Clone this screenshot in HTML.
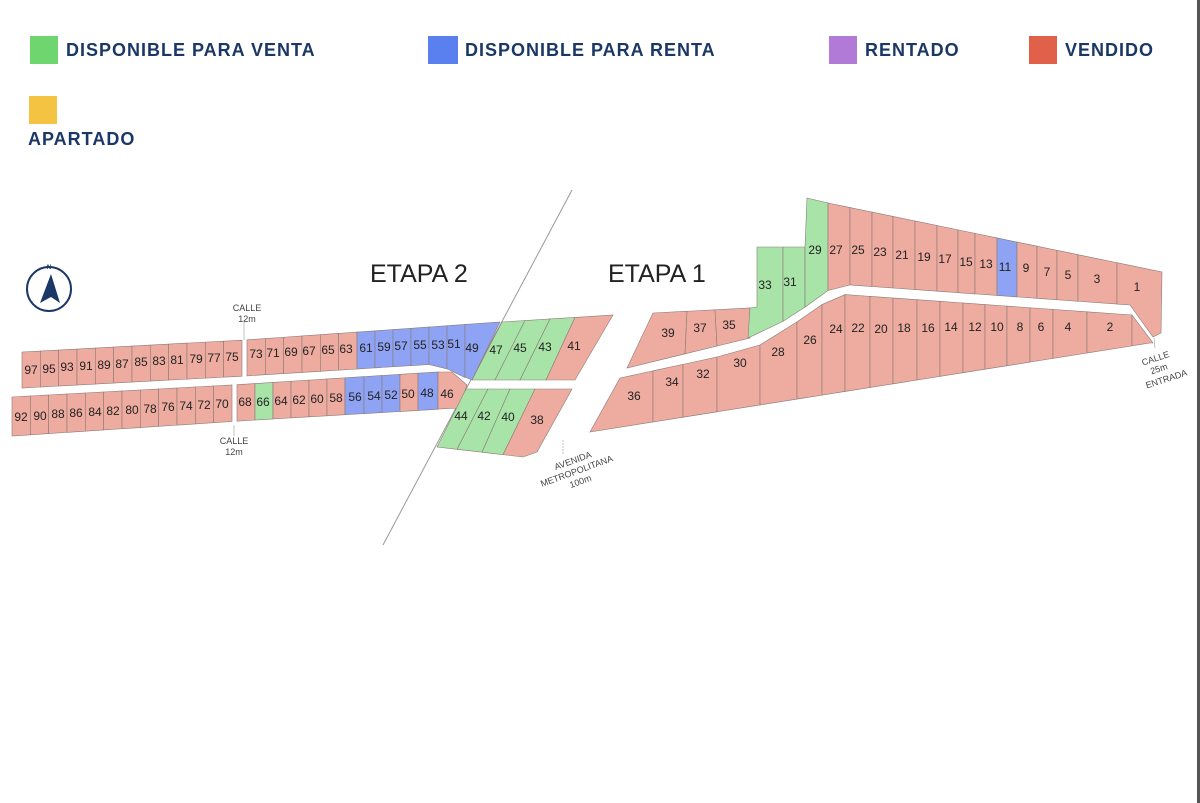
<!DOCTYPE html>
<html><head><meta charset="utf-8"><style>
html,body{margin:0;padding:0;background:#fff;}
svg{display:block;}
.lg{font-family:"Liberation Sans",sans-serif;font-weight:bold;font-size:18px;fill:#1b3766;letter-spacing:1px;}
.n{font-family:"Liberation Sans",sans-serif;font-size:12px;fill:#222;text-anchor:middle;}
.s{font-family:"Liberation Sans",sans-serif;font-size:9px;fill:#444;text-anchor:middle;}
.et{font-family:"Liberation Sans",sans-serif;font-size:25px;fill:#222;}
</style></head><body>
<svg id="m" width="1200" height="803" viewBox="0 0 1200 803" xmlns="http://www.w3.org/2000/svg">
<rect width="1200" height="803" fill="#fff"/>
<rect x="1197" y="0" width="3" height="803" fill="#555"/>
<rect x="30" y="36" width="28" height="28" fill="#6fd66f"/>
<text class="lg" x="66" y="56">DISPONIBLE PARA VENTA</text>
<rect x="428" y="36" width="30" height="28" fill="#5a80f0"/>
<text class="lg" x="465" y="56">DISPONIBLE PARA RENTA</text>
<rect x="829" y="36" width="28" height="28" fill="#b07ad6"/>
<text class="lg" x="865" y="56">RENTADO</text>
<rect x="1029" y="36" width="28" height="28" fill="#e0604a"/>
<text class="lg" x="1065" y="56">VENDIDO</text>
<rect x="29" y="96" width="28" height="28" fill="#f5c342"/>
<text class="lg" x="28" y="145">APARTADO</text>
<circle cx="49" cy="289" r="22" fill="none" stroke="#1b3766" stroke-width="2"/>
<polygon points="51,274 40,303 51,297 60,303" fill="#1b3766"/>
<text x="49" y="269" font-family="Liberation Sans" font-size="6" font-weight="bold" fill="#1b3766" text-anchor="middle">N</text>
<line x1="572" y1="190" x2="383" y2="545" stroke="#999" stroke-width="1"/>
<g id="lots" stroke="#8a7a78" stroke-width="0.6"></g>
<text class="et" x="370" y="282">ETAPA 2</text>
<text class="et" x="608" y="282">ETAPA 1</text>
<g>
<line x1="244" y1="320" x2="244" y2="340" stroke="#aaa" stroke-width="0.7"/>
<text class="s" x="247" y="311">CALLE</text><text class="s" x="247" y="322">12m</text>
<line x1="234" y1="425" x2="234" y2="436" stroke="#aaa" stroke-width="0.7"/>
<text class="s" x="234" y="444">CALLE</text><text class="s" x="234" y="455">12m</text>
<line x1="563" y1="440" x2="563" y2="455" stroke="#aaa" stroke-width="0.7" stroke-dasharray="2,1"/>
<g transform="rotate(-20 577 472)"><text class="s" x="577" y="463">AVENIDA</text><text class="s" x="577" y="474">METROPOLITANA</text><text class="s" x="577" y="485">100m</text></g>
<line x1="1154" y1="338" x2="1155" y2="348" stroke="#aaa" stroke-width="0.7"/>
<g transform="rotate(-18 1162 372)"><text class="s" x="1160" y="360">CALLE</text><text class="s" x="1160" y="371">25m</text><text class="s" x="1164" y="383">ENTRADA</text></g>
</g>
<g>
<text class="n" x="31" y="374">97</text><text class="n" x="49" y="373">95</text><text class="n" x="67" y="371">93</text><text class="n" x="86" y="370">91</text><text class="n" x="104" y="369">89</text><text class="n" x="122" y="368">87</text><text class="n" x="141" y="366">85</text><text class="n" x="159" y="365">83</text><text class="n" x="177" y="364">81</text><text class="n" x="196" y="363">79</text><text class="n" x="214" y="362">77</text><text class="n" x="232" y="361">75</text><text class="n" x="256" y="358">73</text><text class="n" x="273" y="357">71</text><text class="n" x="291" y="356">69</text><text class="n" x="309" y="355">67</text><text class="n" x="328" y="354">65</text><text class="n" x="346" y="353">63</text><text class="n" x="366" y="352">61</text><text class="n" x="384" y="351">59</text><text class="n" x="401" y="350">57</text><text class="n" x="420" y="349">55</text><text class="n" x="438" y="349">53</text><text class="n" x="454" y="348">51</text><text class="n" x="472" y="352">49</text>
<text class="n" x="21" y="421">92</text><text class="n" x="40" y="420">90</text><text class="n" x="58" y="418">88</text><text class="n" x="76" y="417">86</text><text class="n" x="95" y="416">84</text><text class="n" x="113" y="415">82</text><text class="n" x="132" y="414">80</text><text class="n" x="150" y="413">78</text><text class="n" x="168" y="411">76</text><text class="n" x="186" y="410">74</text><text class="n" x="204" y="409">72</text><text class="n" x="222" y="408">70</text><text class="n" x="245" y="406">68</text><text class="n" x="263" y="406">66</text><text class="n" x="281" y="405">64</text><text class="n" x="299" y="404">62</text><text class="n" x="317" y="403">60</text><text class="n" x="336" y="402">58</text><text class="n" x="355" y="401">56</text><text class="n" x="374" y="400">54</text><text class="n" x="391" y="399">52</text><text class="n" x="408" y="398">50</text><text class="n" x="427" y="397">48</text><text class="n" x="447" y="398">46</text>
<text class="n" x="496" y="354">47</text><text class="n" x="520" y="352">45</text><text class="n" x="545" y="351">43</text><text class="n" x="574" y="350">41</text>
<text class="n" x="461" y="420">44</text><text class="n" x="484" y="420">42</text><text class="n" x="508" y="421">40</text><text class="n" x="537" y="424">38</text>
<text class="n" x="668" y="337">39</text><text class="n" x="700" y="332">37</text><text class="n" x="729" y="329">35</text>
<text class="n" x="765" y="289">33</text><text class="n" x="790" y="286">31</text><text class="n" x="815" y="254">29</text>
<text class="n" x="836" y="254">27</text><text class="n" x="858" y="254">25</text><text class="n" x="880" y="256">23</text><text class="n" x="902" y="259">21</text><text class="n" x="924" y="261">19</text><text class="n" x="945" y="263">17</text><text class="n" x="966" y="266">15</text><text class="n" x="986" y="268">13</text><text class="n" x="1005" y="271">11</text><text class="n" x="1026" y="272">9</text><text class="n" x="1047" y="276">7</text><text class="n" x="1068" y="279">5</text><text class="n" x="1097" y="283">3</text><text class="n" x="1137" y="291">1</text>
<text class="n" x="634" y="400">36</text><text class="n" x="672" y="386">34</text><text class="n" x="703" y="378">32</text><text class="n" x="740" y="367">30</text><text class="n" x="778" y="356">28</text><text class="n" x="810" y="344">26</text><text class="n" x="836" y="333">24</text><text class="n" x="858" y="332">22</text><text class="n" x="881" y="333">20</text><text class="n" x="904" y="332">18</text><text class="n" x="928" y="332">16</text><text class="n" x="951" y="331">14</text><text class="n" x="975" y="331">12</text><text class="n" x="997" y="331">10</text><text class="n" x="1020" y="331">8</text><text class="n" x="1041" y="331">6</text><text class="n" x="1068" y="331">4</text><text class="n" x="1110" y="331">2</text>
</g>
</svg>
<script>
(function(){
var S="#eeaca0",G="#a8e4a8",B="#8fa3f5";
var g=document.getElementById("lots");
function poly(pts,c){var p=document.createElementNS("http://www.w3.org/2000/svg","polygon");p.setAttribute("points",pts.map(function(a){return a[0]+","+a[1];}).join(" "));p.setAttribute("fill",c);g.insertBefore(p,null);}
function interp(pl,x){if(x<=pl[0][0])return pl[0][1];for(var i=1;i<pl.length;i++){if(x<=pl[i][0]){var a=pl[i-1],b=pl[i];return a[1]+(b[1]-a[1])*(x-a[0])/(b[0]-a[0]);}}return pl[pl.length-1][1];}
function row(top,bot,bs,cols){for(var i=0;i<bs.length-1;i++){var x0=bs[i],x1=bs[i+1];if(cols[i]===null)continue;poly([[x0,interp(top,x0)],[x1,interp(top,x1)],[x1,interp(bot,x1)],[x0,interp(bot,x0)]],cols[i]);}}
function seq(a,b,n){var r=[];for(var i=0;i<=n;i++)r.push(a+(b-a)*i/n);return r;}
var tA=[[22,352],[245,340],[358,332],[500,322]],bA=[[22,388],[245,376],[437,364],[470,380]];
var bs=seq(22,242,12).concat(seq(247,357,6).slice(0)).concat(seq(357,465,6).slice(1));
var cols=[];for(var i=0;i<12;i++)cols.push(S);cols.push(null);for(i=0;i<6;i++)cols.push(S);for(i=0;i<6;i++)cols.push(B);
row(tA,bA,bs,cols);
poly([[465,interp(tA,465)],[500,322],[472,380],[465,377]],B);
var tB=[[12,397],[232,385],[437,372],[452,372]],bB=[[12,436],[255,420],[460,408]];
bs=seq(12,232,12).concat([237,255,273,291,309,327,345,364,382,400,418,438]);
cols=[];for(i=0;i<12;i++)cols.push(S);cols.push(null);
cols=cols.concat([S,G,S,S,S,S,B,B,B,S,B]);
row(tB,bB,bs,cols);
poly([[438,372],[452,372],[467,385],[459,408],[438,409]],S);
var tx=[502,525,550,575,613],bx=[472,495,520,546,575],mc=[G,G,G,S];
function ty(x){return 322+(x-502)*(315-322)/(613-502);}
for(i=0;i<4;i++)poly([[tx[i],ty(tx[i])],[tx[i+1],ty(tx[i+1])],[bx[i+1],380],[bx[i],380]],mc[i]);
var t2=[466,488,510,535],b2=[437,457,482,503];
function by(x){return 447+(x-437)*(457-447)/(523-437);}
for(i=0;i<3;i++)poly([[t2[i],389],[t2[i+1],389],[b2[i+1],by(b2[i+1])],[b2[i],by(b2[i])]],G);
poly([[535,389],[572,389],[537,452],[523,457],[503,by(503)]],S);
function t3(x){return 313+(x-653)*(308-313)/(750-653);}
function b3(x){return 368+(x-627)*(338-368)/(750-627);}
poly([[653,313],[687,t3(687)],[685,b3(685)],[627,368]],S);
poly([[687,t3(687)],[715,t3(715)],[717,b3(717)],[685,b3(685)]],S);
poly([[715,t3(715)],[750,308],[750,338],[717,b3(717)]],S);
var road=[[748,338],[790,318],[837,284]];
poly([[757,247],[783,247],[783,interp(road,783)],[748,338],[750,308],[757,307]],G);
poly([[783,247],[805,247],[805,interp(road,805)],[783,interp(road,783)]],G);
poly([[807,198],[828,203],[828,interp(road,828)],[805,interp(road,805)],[805,247]],G);
var tT=[[828,203],[1162,272]],bT=[[828,interp(road,828)],[837,284],[1130,305]];
bs=[828,850,872,893,915,937,958,975,997,1017,1037,1057,1078,1117];
cols=[S,S,S,S,S,S,S,S,B,S,S,S,S];
row(tT,bT,bs,cols);
poly([[1117,interp(tT,1117)],[1162,272],[1161,333],[1153,337],[1130,305],[1117,interp(bT,1117)]],S);
var tS=[[620,378],[717,357],[760,345],[800,320],[837,294],[1132,315],[1153,343]];
function bS(x){return 432-0.159*(x-590);}
var bot=[[590,432],[1150,343]];
poly([[620,378],[653,interp(tS,653)],[653,bS(653)],[590,432]],S);
bs=[653,683,717,760,797,822,845,870,893,917,940,963,985,1007,1030,1053,1087,1132];
cols=[];for(i=0;i<bs.length-1;i++)cols.push(S);
row(tS,bot,bs,cols);
poly([[1132,315],[1153,343],[1150,343],[1132,bS(1132)]],S);
})();
</script>
</body></html>
